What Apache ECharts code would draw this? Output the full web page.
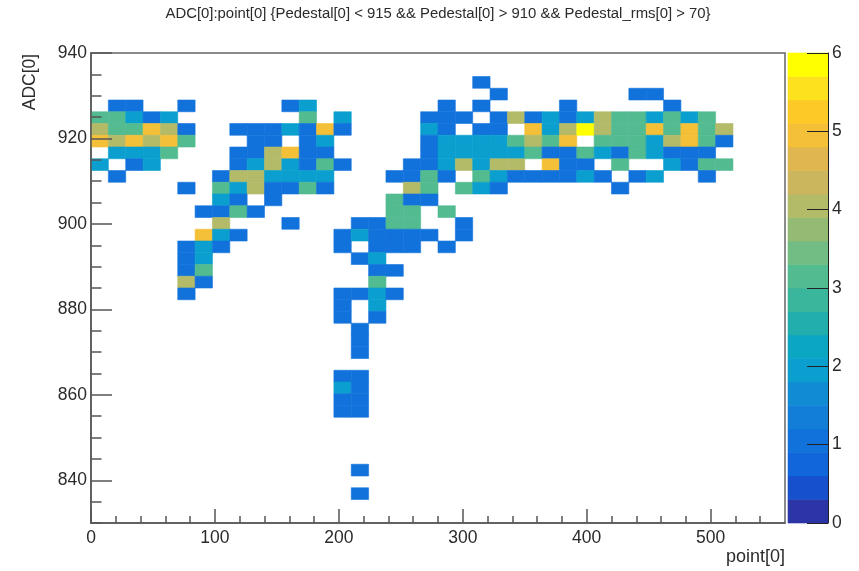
<!DOCTYPE html>
<html>
<head>
<meta charset="utf-8">
<style>html,body{margin:0;padding:0;background:#fff}#c{width:859px;height:571px}</style>
<script src="https://cdn.jsdelivr.net/npm/echarts@6/dist/echarts.min.js"></script>
</head>
<body>
<div id="c"></div>
<script>
const titleText = 'ADC[0]:point[0] {Pedestal[0] < 915 && Pedestal[0] > 910 && Pedestal_rms[0] > 70}';
const xName = 'point[0]';
const yName = 'ADC[0]';
const xRange = [0, 560];
const yRange = [830, 940];
const binCount = 40;
const xMajorTicks = [0, 100, 200, 300, 400, 500];
const xMinorTicks = [20,40,60,80,120,140,160,180,220,240,260,280,320,340,360,380,420,440,460,480,520,540];
const yMajorTicks = [840, 860, 880, 900, 920, 940];
const yMinorTicks = [830,835,845,850,855,865,870,875,885,890,895,905,910,915,925,930,935];
const zMax = 6;
const palette = ['#2c35a6','#1650cc','#1266dc','#1272db','#127ed8','#108cd4','#0a9fcf','#0aa6c2','#22aeac','#3ab69c',
  '#52bb90','#72bd83','#94bb73','#b4bb68','#ccb65d','#e0b64e','#f4c038','#fcc926','#fee11e','#ffff00'];

// Bin contents, keyed by bin row counted from the top of the plot: [column, count]
const row02 = [[22,1]];
const row03 = [[23,1],[31,1],[32,1]];
const row04 = [[1,1],[2,1],[5,1],[11,1],[12,2],[20,1],[22,1],[27,1],[33,1]];
const row05 = [[0,3],[1,3],[2,2],[3,1],[4,2],[12,3],[14,2],[19,1],[20,1],[21,1],[23,1],[24,4],[25,1],[26,2],[27,1],[28,2],[29,4],[30,3],[31,3],[32,2],[33,3],[34,2],[35,3]];
const row06 = [[0,4],[1,3],[2,3],[3,5],[4,4],[5,1],[8,1],[9,1],[10,1],[11,2],[12,1],[13,5],[14,1],[19,2],[20,1],[22,1],[23,1],[25,5],[26,2],[27,4],[28,6],[29,4],[30,3],[31,3],[32,5],[33,3],[34,5],[35,3],[36,4]];
const row07 = [[0,5],[1,4],[2,5],[3,4],[4,5],[5,3],[9,1],[10,1],[12,1],[13,2],[19,1],[20,2],[21,2],[22,2],[23,2],[24,3],[25,4],[26,3],[27,5],[29,3],[30,3],[31,3],[32,2],[33,4],[34,5],[35,3],[36,1]];
const row08 = [[1,2],[2,2],[3,2],[4,3],[8,1],[9,1],[10,4],[11,5],[12,1],[13,1],[19,1],[20,2],[21,2],[22,2],[23,2],[24,2],[25,3],[26,1],[27,1],[28,3],[29,2],[30,1],[31,3],[32,2],[33,1],[34,1],[35,1]];
const row09 = [[0,2],[2,1],[3,2],[8,1],[9,2],[10,4],[11,2],[12,1],[13,3],[14,1],[18,1],[19,1],[20,2],[21,4],[22,2],[23,4],[24,4],[26,5],[27,1],[28,1],[30,3],[33,2],[34,1],[35,3],[36,3]];
const row10 = [[1,1],[7,1],[8,4],[9,4],[10,2],[11,2],[12,2],[13,2],[17,1],[18,1],[19,3],[20,1],[22,3],[23,2],[24,1],[25,1],[26,1],[27,1],[28,2],[29,1],[31,1],[32,2],[35,1]];
const row11 = [[5,1],[7,3],[8,2],[9,4],[10,1],[11,1],[12,3],[13,1],[18,4],[19,3],[21,3],[22,2],[23,1],[30,1]];
const row12 = [[7,2],[8,1],[10,1],[17,3],[18,1],[19,1]];
const row13 = [[6,1],[7,1],[8,3],[9,1],[17,3],[18,3],[20,3]];
const row14 = [[7,4],[11,1],[15,1],[16,1],[17,3],[18,3],[21,1]];
const row15 = [[6,5],[7,2],[8,1],[14,1],[15,2],[16,1],[17,1],[18,1],[19,1],[21,1]];
const row16 = [[5,1],[6,2],[7,1],[14,1],[16,1],[17,1],[18,1],[20,1]];
const row17 = [[5,1],[6,2],[15,1],[16,2]];
const row18 = [[5,1],[6,3],[16,1],[17,1]];
const row19 = [[5,4],[6,1],[16,3]];
const row20 = [[5,1],[14,1],[15,1],[16,2],[17,1]];
const row21 = [[14,1],[16,2]];
const row22 = [[14,1],[16,1]];
const row23 = [[15,1]];
const row24 = [[15,1]];
const row25 = [[15,1]];
const row27 = [[14,1],[15,1]];
const row28 = [[14,2],[15,1]];
const row29 = [[14,1],[15,1]];
const row30 = [[14,1],[15,1]];
const row35 = [[15,1]];
const row37 = [[15,1]];
const rows = {2:row02,3:row03,4:row04,5:row05,6:row06,7:row07,8:row08,9:row09,10:row10,11:row11,12:row12,13:row13,14:row14,15:row15,16:row16,17:row17,18:row18,19:row19,20:row20,21:row21,22:row22,23:row23,24:row24,25:row25,27:row27,28:row28,29:row29,30:row30,35:row35,37:row37};

const xBin = (xRange[1] - xRange[0]) / binCount;
const yBin = (yRange[1] - yRange[0]) / binCount;
const colorOf = v => palette[Math.min(palette.length - 1, Math.floor(v * palette.length / zMax))];

const cellData = [];
Object.keys(rows).forEach(r => rows[r].forEach(([c, v]) => {
  cellData.push([xRange[0] + c * xBin, yRange[1] - (+r + 1) * yBin, v]);
}));
const bandData = palette.map((col, i) => [i * zMax / palette.length, col]);

const TXT = '#2b2b2b', LINE = '#555', FONT = '"Liberation Sans", Arial, sans-serif';
const chart = echarts.init(document.getElementById('c'), null, {renderer: 'canvas'});

const baseAxis = (extra) => Object.assign({type: 'value', splitLine: {show: false}, z: 5}, extra);

chart.setOption({
  animation: false,
  backgroundColor: '#fff',
  title: {text: titleText, left: 433, top: 1, textAlign: 'center',
    textStyle: {fontFamily: FONT, fontSize: 14.9, fontWeight: 'normal', color: TXT}},
  grid: [
    {left: 91, right: 74, top: 53, bottom: 48, show: true, borderColor: '#666', borderWidth: 1.5, backgroundColor: '#fff'},
    {left: 788, right: 31, top: 53, bottom: 48, show: false}
  ],
  xAxis: [
    baseAxis({gridIndex: 0, position: 'bottom', min: xRange[0], max: xRange[1],
      axisLine: {onZero: false, lineStyle: {color: LINE, width: 1.5}},
      axisTick: {inside: true, length: 14, customValues: xMajorTicks, lineStyle: {color: LINE, width: 1.5}},
      axisLabel: {customValues: xMajorTicks, margin: 6, fontFamily: FONT, fontSize: 17.5, color: TXT}}),
    baseAxis({gridIndex: 0, position: 'bottom', min: xRange[0], max: xRange[1],
      axisLine: {show: false},
      axisTick: {inside: true, length: 7, customValues: xMinorTicks, lineStyle: {color: LINE, width: 1.5}},
      axisLabel: {show: false}}),
    baseAxis({gridIndex: 1, min: 0, max: 1, show: false})
  ],
  yAxis: [
    baseAxis({gridIndex: 0, position: 'left', min: yRange[0], max: yRange[1],
      axisLine: {onZero: false, lineStyle: {color: LINE, width: 1.5}},
      axisTick: {inside: true, length: 21, customValues: yMajorTicks, lineStyle: {color: LINE, width: 1.5}},
      axisLabel: {customValues: yMajorTicks, margin: 4, fontFamily: FONT, fontSize: 17.5, color: TXT}}),
    baseAxis({gridIndex: 0, position: 'left', min: yRange[0], max: yRange[1],
      axisLine: {show: false},
      axisTick: {inside: true, length: 10.5, customValues: yMinorTicks, lineStyle: {color: LINE, width: 1.5}},
      axisLabel: {show: false}}),
    baseAxis({gridIndex: 1, position: 'right', min: 0, max: zMax, interval: 1,
      axisLine: {onZero: false, lineStyle: {color: '#222', width: 1}},
      axisTick: {inside: true, length: 21, lineStyle: {color: '#222', width: 1}},
      axisLabel: {margin: 4, fontFamily: FONT, fontSize: 17.5, color: TXT}})
  ],
  series: [
    {type: 'custom', xAxisIndex: 0, yAxisIndex: 0, z: 2, silent: true,
      encode: {x: 0, y: 1}, data: cellData,
      renderItem: (p, api) => {
        const x0 = api.value(0), y0 = api.value(1);
        const a = api.coord([x0, y0 + yBin]), b = api.coord([x0 + xBin, y0]);
        const col = colorOf(api.value(2));
        return {type: 'rect', shape: {x: a[0], y: a[1], width: b[0] - a[0], height: b[1] - a[1]},
          style: {fill: col, stroke: col, lineWidth: 0.6}};
      }},
    {type: 'custom', xAxisIndex: 2, yAxisIndex: 2, z: 2, silent: true,
      encode: {y: 0}, data: bandData,
      renderItem: (p, api) => {
        const z0 = api.value(0);
        const a = api.coord([0, z0 + zMax / palette.length]), b = api.coord([1, z0]);
        const col = palette[p.dataIndex];
        return {type: 'rect', shape: {x: a[0], y: a[1], width: b[0] - a[0], height: b[1] - a[1]},
          style: {fill: col, stroke: col, lineWidth: 0.6}};
      }}
  ],
  graphic: [
    {type: 'text', right: 74, top: 548, z: 10,
      style: {text: xName, fill: TXT, font: '18px ' + FONT}},
    {type: 'text', x: 30, y: 82, rotation: Math.PI / 2, z: 10,
      style: {text: yName, fill: TXT, font: '17.5px ' + FONT, textAlign: 'center', textVerticalAlign: 'middle'}}
  ]
});
</script>
</body>
</html>
